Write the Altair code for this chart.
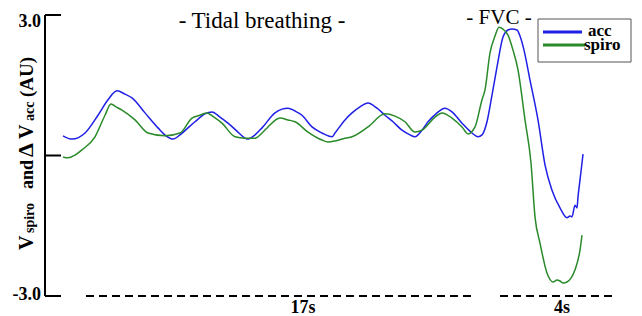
import altair as alt
import pandas as pd

# ---------------- data ----------------
acc_t = [63, 72, 85, 98, 108, 117, 125, 132, 145, 158, 166, 173, 180, 188, 195, 205, 212, 220, 228, 238,
         245, 247, 255, 262, 275, 282, 288, 295, 302, 312, 322, 332, 335, 345, 352, 360, 368, 377, 385, 393,
         402, 410, 415, 422, 428, 436, 445, 452, 462, 472, 478, 482, 487, 492, 497, 503, 508, 512, 517, 520,
         524, 530, 538, 545, 552, 560, 567, 570, 572, 575, 577, 578, 580, 582, 583]
acc_v = [0.42, 0.35, 0.48, 0.86, 1.19, 1.38, 1.31, 1.23, 0.91, 0.59, 0.42, 0.35, 0.44, 0.59, 0.72, 0.89, 0.93, 0.82, 0.69, 0.50,
         0.37, 0.35, 0.44, 0.59, 0.91, 0.99, 1.01, 0.95, 0.86, 0.61, 0.48, 0.40, 0.48, 0.76, 0.91, 1.04, 1.12, 1.01, 0.86, 0.72,
         0.54, 0.44, 0.40, 0.54, 0.72, 0.89, 1.01, 0.93, 0.69, 0.48, 0.40, 0.44, 0.72, 1.29, 1.89, 2.53, 2.68, 2.70, 2.68, 2.55,
         2.25, 1.61, 0.76, -0.20, -0.74, -1.12, -1.33, -1.29, -1.31, -1.06, -1.12, -0.89, -0.52, -0.16, 0.03]

spiro_t = [63, 68, 75, 82, 95, 105, 111, 116, 122, 135, 148, 165, 180, 192, 200, 207, 214, 222, 235, 245,
           255, 262, 268, 280, 288, 295, 308, 322, 328, 335, 345, 352, 368, 385, 395, 405, 415, 422, 435, 442,
           452, 462, 468, 475, 482, 485, 490, 495, 499, 503, 508, 513, 518, 525, 531, 535, 540, 547, 553, 557,
           560, 563, 567, 571, 575, 580, 582]
spiro_v = [-0.03, -0.05, 0.01, 0.12, 0.40, 0.86, 1.10, 1.04, 0.97, 0.76, 0.48, 0.42, 0.48, 0.80, 0.86, 0.91, 0.82, 0.69, 0.40, 0.37,
           0.37, 0.48, 0.61, 0.80, 0.76, 0.72, 0.50, 0.33, 0.29, 0.31, 0.37, 0.40, 0.61, 0.89, 0.84, 0.72, 0.50, 0.54, 0.82, 0.91,
           0.80, 0.61, 0.46, 0.61, 1.19, 1.40, 2.19, 2.55, 2.74, 2.70, 2.57, 2.25, 1.83, 0.76, -0.16, -1.31, -1.87, -2.51, -2.70, -2.66,
           -2.68, -2.72, -2.70, -2.62, -2.44, -2.02, -1.70]

series_names = ["acc", "spiro"]
series_colors = ["#1f1fe6", "#2a8a2a"]

axis_lo = [-3.0]
axis_hi = [3.0]
y_tick_values = [-3.0, 0.0, 3.0]
top_tick = [3.0]
top_tick_label = ["3.0"]
bottom_tick = [-3.0]
bottom_tick_label = ["-3.0"]

segment_start = [86, 500]
segment_end = [475, 617]
segment_level = [-3.0, -3.0]
segment_labels = ["17s", "4s"]
segment_label_t = [303, 562]

tidal_label = ["- Tidal breathing -"]
tidal_label_t = [262]
fvc_label = ["- FVC -"]
fvc_label_t = [499]
top_level = [3.0]

FONT = "Liberation Serif"

# ---------------- build tables ----------------
df = pd.concat([
    pd.DataFrame({"t": acc_t, "v": acc_v, "series": "acc"}),
    pd.DataFrame({"t": spiro_t, "v": spiro_v, "series": "spiro"}),
], ignore_index=True)

xs = alt.Scale(domain=[45, 632], nice=False, zero=False)
ys = alt.Scale(domain=[-3, 3], nice=False, zero=False)
cs = alt.Scale(domain=series_names, range=series_colors)


def X(field):
    return alt.X(field, scale=xs, axis=None)


def Y(field):
    return alt.Y(field, scale=ys, axis=None)


lines = alt.Chart(df).mark_line(strokeWidth=1.5, interpolate="monotone").encode(
    x=X("t:Q"),
    y=Y("v:Q"),
    color=alt.Color("series:N", scale=cs, legend=None),
)

axis_line = alt.Chart(pd.DataFrame({"lo": axis_lo, "hi": axis_hi})).mark_rule(color="black", strokeWidth=2).encode(
    y=Y("lo:Q"), y2="hi:Q", x=alt.value(0))

ticks = alt.Chart(pd.DataFrame({"v": y_tick_values})).mark_rule(color="black", strokeWidth=2).encode(
    y=Y("v:Q"), x=alt.value(0), x2=alt.value(16))

top_lbl = alt.Chart(pd.DataFrame({"v": top_tick, "label": top_tick_label})).mark_text(
    align="right", baseline="alphabetic", dy=12, font=FONT, fontSize=18, fontWeight="bold", color="black"
).encode(y=Y("v:Q"), x=alt.value(-4), text="label:N")

bot_lbl = alt.Chart(pd.DataFrame({"v": bottom_tick, "label": bottom_tick_label})).mark_text(
    align="right", baseline="alphabetic", dy=4, font=FONT, fontSize=18, fontWeight="bold", color="black"
).encode(y=Y("v:Q"), x=alt.value(-4), text="label:N")

seg = alt.Chart(pd.DataFrame({"start": segment_start, "end": segment_end, "v": segment_level})).mark_rule(
    color="black", strokeWidth=2, strokeDash=[8, 5]
).encode(x=X("start:Q"), x2="end:Q", y=Y("v:Q"))

seg_lbl = alt.Chart(pd.DataFrame({"t": segment_label_t, "label": segment_labels, "v": segment_level})).mark_text(
    baseline="alphabetic", dy=17, font=FONT, fontSize=18, fontWeight="bold", color="black"
).encode(x=X("t:Q"), y=Y("v:Q"), text="label:N")

tidal = alt.Chart(pd.DataFrame({"t": tidal_label_t, "label": tidal_label, "v": top_level})).mark_text(
    baseline="alphabetic", dy=13, font=FONT, fontSize=23, color="black"
).encode(x=X("t:Q"), y=Y("v:Q"), text="label:N")

fvc = alt.Chart(pd.DataFrame({"t": fvc_label_t, "label": fvc_label, "v": top_level})).mark_text(
    baseline="alphabetic", dy=9, font=FONT, fontSize=21, color="black"
).encode(x=X("t:Q"), y=Y("v:Q"), text="label:N")

# ---------------- legend (drawn by hand) ----------------
leg_box = alt.Chart(pd.DataFrame({"series": ["acc"]})).mark_rect(
    fill="white", stroke="#555555", strokeWidth=1
).encode(x=alt.value(493), x2=alt.value(586), y=alt.value(4), y2=alt.value(47))
leg_acc = alt.Chart(pd.DataFrame({"series": ["acc"]})).mark_rule(strokeWidth=3).encode(
    x=alt.value(498), x2=alt.value(537), y=alt.value(17), color=alt.Color("series:N", scale=cs, legend=None))
leg_spiro = alt.Chart(pd.DataFrame({"series": ["spiro"]})).mark_rule(strokeWidth=3).encode(
    x=alt.value(498), x2=alt.value(540), y=alt.value(30), color=alt.Color("series:N", scale=cs, legend=None))
leg_acc_t = alt.Chart(pd.DataFrame({"series": ["acc"]})).mark_text(
    align="left", baseline="alphabetic", font=FONT, fontSize=17, fontWeight="bold", color="black"
).encode(x=alt.value(543), y=alt.value(21), text="series:N")
leg_spiro_t = alt.Chart(pd.DataFrame({"series": ["spiro"]})).mark_text(
    align="left", baseline="alphabetic", font=FONT, fontSize=17, fontWeight="bold", color="black"
).encode(x=alt.value(539), y=alt.value(35), text="series:N")


# ---------------- y title with subscripts ----------------
def ytext(txt, ypos, size, xpos):
    return alt.Chart(pd.DataFrame({"s": [txt]})).mark_text(
        angle=270, align="left", baseline="alphabetic", font=FONT, fontSize=size,
        fontWeight="bold", color="black"
    ).encode(x=alt.value(xpos), y=alt.value(ypos), text="s:N")


title_parts = [
    ytext("V", 235, 20, -12),
    ytext("spiro", 218, 14, -11),
    ytext("and", 174, 18, -12),
    ytext("\u0394", 142, 22, -12),
    ytext("V", 124, 20, -12),
    ytext("acc", 106, 14, -11),
    ytext("(AU)", 82, 19, -12),
]

chart = alt.layer(
    seg, axis_line, ticks, lines, top_lbl, bot_lbl, seg_lbl, tidal, fvc,
    leg_box, leg_acc, leg_spiro, leg_acc_t, leg_spiro_t, *title_parts
).properties(
    width=587, height=281,
    padding={"left": 37, "top": 7, "right": 2, "bottom": 22},
    autosize=alt.AutoSizeParams(type="none"),
).configure_view(stroke=None)

chart.save("out.html", embed_options={"renderer": "svg", "actions": False})
